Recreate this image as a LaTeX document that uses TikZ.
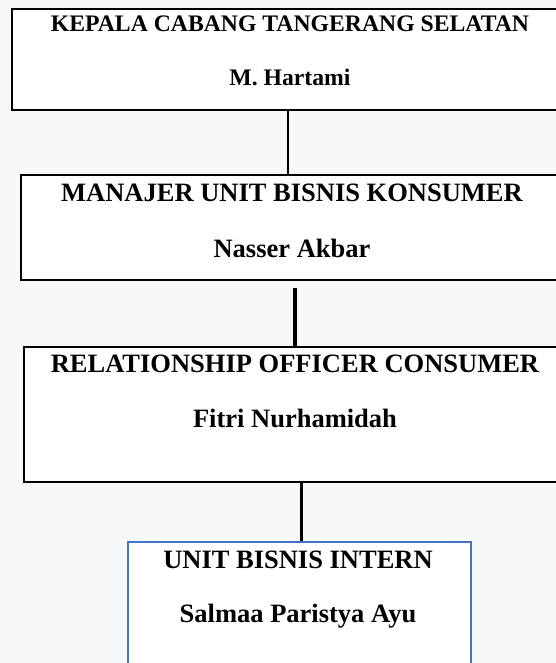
\documentclass[tikz,border=0pt]{standalone}
\usepackage{fontspec}
\setmainfont{Liberation Serif}
\usepackage{tikz}

\definecolor{latar}{RGB}{247,248,250}
\definecolor{biruword}{RGB}{68,114,196}

\begin{document}
\begin{tikzpicture}[x=1pt, y=-1pt,
    kotak/.style={draw, fill=white, line width=1.6pt, inner sep=0pt, anchor=north west},
    teksbesar/.style={font=\bfseries\fontsize{26.5}{30}\selectfont, anchor=base, inner sep=0pt},
    tekskecil/.style={font=\bfseries\fontsize{23.7}{28}\selectfont, anchor=base, inner sep=0pt},
    garis/.style={line width=2pt}]

    % ==========================================
    % PAGE FRAME
    % Fixed to the size of the scan, boxes run off the right edge
    % ==========================================
    \useasboundingbox (0,0) rectangle (556,663);
    \clip (0,0) rectangle (556,663);
    \fill[latar] (0,0) rectangle (556,663);

    % ==========================================
    % BOXES
    % ==========================================

    % Kepala cabang
    \node[kotak, minimum width=552pt, minimum height=101pt] (kepala) at (11,8) {};
    \node[tekskecil] (kepalaJab) at (290,32) {KEPALA CABANG TANGERANG SELATAN};
    \node[tekskecil] (kepalaNama) at (290,86) {M. Hartami};

    % Manajer unit bisnis
    \node[kotak, minimum width=548pt, minimum height=105pt] (manajer) at (20,174) {};
    \node[teksbesar] (manajerJab) at (292,201) {MANAJER UNIT BISNIS KONSUMER};
    \node[teksbesar] (manajerNama) at (292,257) {Nasser Akbar};

    % Relationship officer
    \node[kotak, minimum width=556pt, minimum height=135pt] (officer) at (23,346) {};
    \node[teksbesar] (officerJab) at (295,372) {RELATIONSHIP OFFICER CONSUMER};
    \node[teksbesar] (officerNama) at (295,427) {Fitri Nurhamidah};

    % Intern (blue border)
    \node[kotak, draw=biruword, minimum width=343pt, minimum height=160pt] (intern) at (127,541) {};
    \node[teksbesar] (internJab) at (298,568) {UNIT BISNIS INTERN};
    \node[teksbesar] (internNama) at (298,622) {Salmaa Paristya Ayu};

    % ==========================================
    % CONNECTORS
    % ==========================================
    \draw[garis] (kepala.south) -- (kepala.south |- manajer.north);
    \draw[garis, line width=3.5pt, shorten <=7pt] (manajer.south) -- (manajer.south |- officer.north);
    \draw[garis, line width=3pt] (officer.south) -- (officer.south |- intern.north);

\end{tikzpicture}
\end{document}
